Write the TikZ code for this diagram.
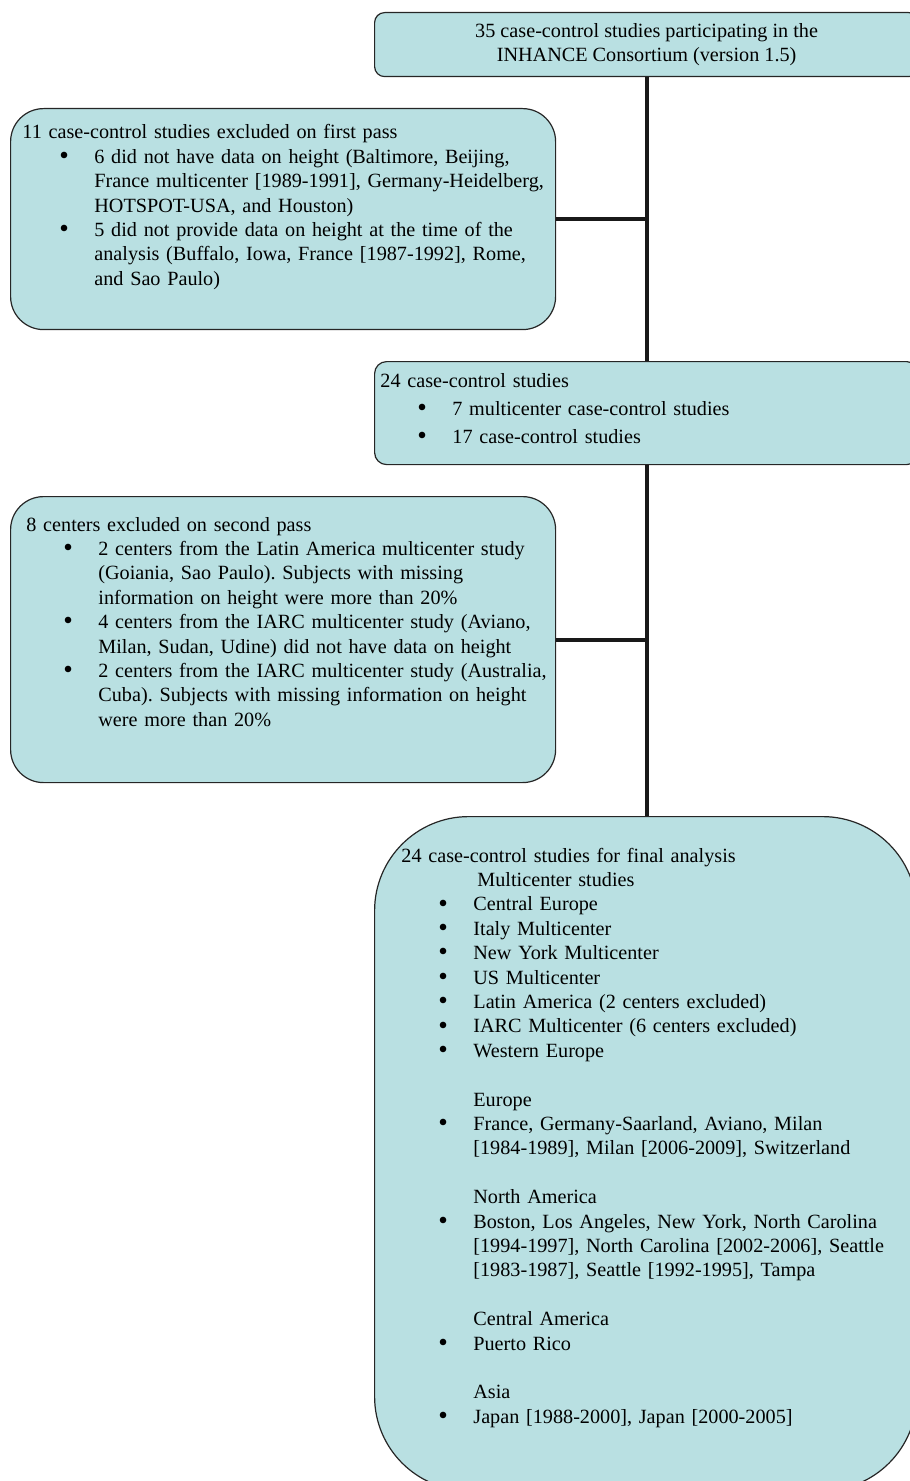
\documentclass[tikz,border=0pt]{standalone}
\usepackage{fontspec}
\setmainfont{Liberation Serif}
\frenchspacing
\definecolor{boxcyan}{RGB}{185,224,226}
\newlength{\bulpos}\setlength{\bulpos}{18.5pt}
\newlength{\bultxt}\setlength{\bultxt}{36pt}
% bullet paragraph with hanging indent
\newcommand{\bigbul}{\raisebox{-0.15ex}{\scalebox{1.35}{\textbullet}}}
\newcommand{\bitem}[1]{\par\hangindent=\bultxt\hangafter=0\noindent\llap{\makebox[\dimexpr\bultxt-\bulpos\relax][l]{\bigbul}}#1\par}
\newcommand{\subhead}[2][\bultxt]{\par\noindent\hspace*{#1}#2\par}
\newcommand{\gap}{\par\mbox{}\par}
\tikzset{
  flowbox/.style={draw=black!85, line width=0.6pt, fill=boxcyan, anchor=north west, inner sep=0pt},
  flowtext/.style={anchor=base west, inner sep=0pt, align=left, text width=300pt,
    font=\fontsize{10.1}{12.2}\selectfont},
  link/.style={line width=2pt, black!90}
}
\begin{document}
\begin{tikzpicture}[x=0.5pt, y=-0.5pt]
  \useasboundingbox (0,0) rectangle (909,1481);
  % Boxes
  \node[flowbox, rounded corners=5pt, minimum width=272pt, minimum height=32pt,
    align=center, font=\fontsize{10.1}{12.2}\selectfont] (all) at (374,12)
    {35 case-control studies participating in the\\INHANCE Consortium (version 1.5)};
  \node[flowbox, rounded corners=16.5pt, minimum width=272.5pt, minimum height=110.5pt] (excl1) at (10,108) {};
  \node[flowbox, rounded corners=6pt, minimum width=272pt, minimum height=51.5pt] (count24) at (374,361) {};
  \node[flowbox, rounded corners=16.5pt, minimum width=272.5pt, minimum height=143pt] (excl2) at (10,496) {};
  \node[flowbox, rounded corners=47pt, minimum width=271pt, minimum height=337pt] (final) at (374,816) {};
  % Connectors
  \draw[link] (all.south) -- (count24.north);
  \draw[link] (count24.south) -- (count24.south |- final.north);
  \draw[link] (excl1.east) -- (excl1.east -| all.south);
  \draw[link] (excl2.east) -- (excl2.east -| all.south);
  % First exclusion
  \node[flowtext] (excl1txt) at (22,139) {11 case-control studies excluded on first pass
    \bitem{6 did not have data on height (Baltimore, Beijing,\newline France multicenter [1989-1991], Germany-Heidelberg,\newline HOTSPOT-USA, and Houston)}
    \bitem{5 did not provide data on height at the time of the\newline analysis (Buffalo, Iowa, France [1987-1992], Rome,\newline and Sao Paulo)}};
  % Remaining studies
  \node[flowtext, font=\fontsize{10.1}{14}\selectfont] (count24txt) at (380,387) {24 case-control studies
    \bitem{7 multicenter case-control studies}
    \bitem{17 case-control studies}};
  % Second exclusion
  \node[flowtext] (excl2txt) at (26,531) {8 centers excluded on second pass
    \bitem{2 centers from the Latin America multicenter study\newline (Goiania, Sao Paulo). Subjects with missing\newline information on height were more than 20\%}
    \bitem{4 centers from the IARC multicenter study (Aviano,\newline Milan, Sudan, Udine) did not have data on height}
    \bitem{2 centers from the IARC multicenter study (Australia,\newline Cuba). Subjects with missing information on height\newline were more than 20\%}};
  % Final analysis
  \node[flowtext] (finaltxt) at (401,862) {24 case-control studies for final analysis
    \subhead[38pt]{Multicenter studies}
    \bitem{Central Europe}
    \bitem{Italy Multicenter}
    \bitem{New York Multicenter}
    \bitem{US Multicenter}
    \bitem{Latin America (2 centers excluded)}
    \bitem{IARC Multicenter (6 centers excluded)}
    \bitem{Western Europe}
    \gap
    \subhead{Europe}
    \bitem{France, Germany-Saarland, Aviano, Milan\newline [1984-1989], Milan [2006-2009], Switzerland}
    \gap
    \subhead{North America}
    \bitem{Boston, Los Angeles, New York, North Carolina\newline [1994-1997], North Carolina [2002-2006], Seattle\newline [1983-1987], Seattle [1992-1995], Tampa}
    \gap
    \subhead{Central America}
    \bitem{Puerto Rico}
    \gap
    \subhead{Asia}
    \bitem{Japan [1988-2000], Japan [2000-2005]}};
\end{tikzpicture}
\end{document}
